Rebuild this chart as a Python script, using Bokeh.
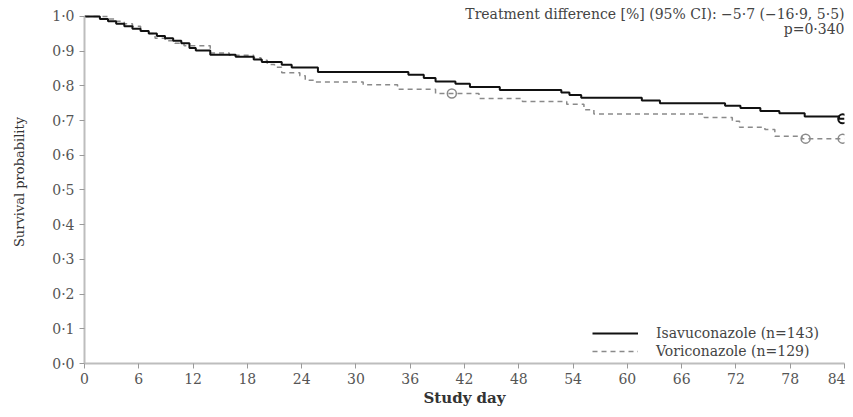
from bokeh.plotting import figure
from bokeh.models import Range1d, FixedTicker, Label, Legend, LegendItem
from bokeh.embed import file_html
from bokeh.resources import INLINE

# ---- data ----
isa_days = [0, 1.7, 2.6, 3.5, 4.4, 5.3, 6.2, 7.1, 8.0, 8.9, 9.8, 10.7, 11.6, 12.3, 13.9,
            16.7, 18.7, 19.6, 21.8, 22.9, 25.8, 35.8, 37.5, 38.8, 41.0, 42.6, 45.9, 52.7,
            53.6, 54.9, 61.6, 63.6, 70.8, 72.5, 74.7, 76.8, 79.6, 83.4]
isa_surv = [1.0, 0.993, 0.986, 0.979, 0.972, 0.965, 0.958, 0.951, 0.944, 0.937, 0.930, 0.923,
            0.909, 0.902, 0.890, 0.884, 0.876, 0.869, 0.861, 0.853, 0.840, 0.832, 0.823, 0.813,
            0.806, 0.797, 0.788, 0.781, 0.774, 0.766, 0.758, 0.750, 0.743, 0.736, 0.728, 0.721,
            0.712, 0.705]
isa_cens_days = [83.8]
isa_cens_surv = [0.705]

vor_days = [0, 2.6, 3.5, 4.4, 5.3, 6.2, 7.1, 7.8, 8.9, 10.0, 11.0, 13.9, 16.0, 18.7, 19.5,
            20.2, 21.0, 21.8, 23.8, 24.4, 25.4, 30.8, 34.6, 38.8, 43.6, 48.4, 53.3, 55.2,
            56.3, 68.5, 71.6, 72.4, 75.2, 76.3, 79.3]
vor_surv = [1.0, 0.993, 0.986, 0.979, 0.972, 0.958, 0.951, 0.937, 0.930, 0.923, 0.916, 0.895,
            0.888, 0.881, 0.874, 0.862, 0.854, 0.838, 0.829, 0.816, 0.811, 0.803, 0.790, 0.778,
            0.764, 0.755, 0.747, 0.731, 0.719, 0.709, 0.698, 0.681, 0.674, 0.655, 0.648]
vor_cens_days = [40.6, 79.7, 83.8]
vor_cens_surv = [0.778, 0.648, 0.648]

x_end = 84
x_ticks = [0, 6, 12, 18, 24, 30, 36, 42, 48, 54, 60, 66, 72, 78, 84]
y_ticks = [0.0, 0.1, 0.2, 0.3, 0.4, 0.5, 0.6, 0.7, 0.8, 0.9, 1.0]
y_tick_labels = ["0·0", "0·1", "0·2", "0·3", "0·4", "0·5", "0·6", "0·7", "0·8", "0·9", "1·0"]

isa_label = "Isavuconazole (n=143)"
vor_label = "Voriconazole (n=129)"
note_line1 = "Treatment difference [%] (95% CI): \u22125·7 (\u221216·9, 5·5)"
note_line2 = "p=0·340"

FONT = "DejaVu Serif"

p = figure(width=845, height=409, output_backend="svg", toolbar_location=None,
           x_range=Range1d(0, x_end), y_range=Range1d(0, 1.0461),
           min_border_left=84, min_border_right=1, min_border_top=0, min_border_bottom=46)
p.outline_line_color = None
p.xgrid.visible = False
p.ygrid.visible = False
p.background_fill_color = "white"

# extend steps to the end of follow-up
isa_x = isa_days + [x_end]
isa_y = isa_surv + [isa_surv[-1]]
vor_x = vor_days + [x_end]
vor_y = vor_surv + [vor_surv[-1]]

r_vor = p.step(vor_x, vor_y, mode="after", line_color="#8a8a8a", line_width=1.5,
               line_dash="5 4")
r_isa = p.step(isa_x, isa_y, mode="after", line_color="#111111", line_width=2)

p.scatter(vor_cens_days, vor_cens_surv, marker="circle", size=9, fill_color=None,
          line_color="#8a8a8a", line_width=1.5)
p.scatter(isa_cens_days, isa_cens_surv, marker="circle", size=9, fill_color=None,
          line_color="#111111", line_width=2)

# axes
for ax in (p.xaxis, p.yaxis):
    ax.axis_line_color = "#bdbdbd"
    ax.axis_line_width = 2
    ax.major_tick_line_color = "#9a9a9a"
    ax.major_tick_out = 5
    ax.major_tick_in = 0
    ax.minor_tick_line_color = None
    ax.major_label_text_font = FONT
    ax.major_label_text_font_size = "14px"
    ax.major_label_text_color = "#555555"
    ax.axis_label_text_font = FONT
    ax.axis_label_text_color = "#333333"
    ax.axis_label_text_font_style = "normal"

p.xaxis.ticker = FixedTicker(ticks=x_ticks)
p.xaxis.axis_label = "Study day"
p.xaxis.axis_label_text_font_style = "bold"
p.xaxis.axis_label_text_font_size = "15px"
p.xaxis.major_label_standoff = 4
p.xaxis.axis_label_standoff = 2

p.yaxis.ticker = FixedTicker(ticks=y_ticks)
p.yaxis.bounds = (0, 1.0)
p.yaxis.major_label_overrides = {t: s for t, s in zip(y_ticks, y_tick_labels)}
p.yaxis.axis_label = "Survival probability"
p.yaxis.axis_label_text_font_size = "13px"
p.yaxis.major_label_standoff = 5
p.yaxis.axis_label_standoff = 22

# legend
legend = Legend(items=[LegendItem(label=isa_label, renderers=[r_isa]),
                       LegendItem(label=vor_label, renderers=[r_vor])],
                location=(508, 3), padding=0, margin=0, spacing=0,
                glyph_width=46, glyph_height=18, label_height=18, label_standoff=18,
                label_text_font=FONT, label_text_font_size="14px",
                label_text_color="#444444", border_line_color=None,
                background_fill_alpha=0)
p.add_layout(legend)

# annotation
p.add_layout(Label(x=x_end, y=1.0086, text=note_line1, text_align="right",
                   text_baseline="middle", text_font=FONT, text_font_size="14px",
                   text_color="#444444"))
p.add_layout(Label(x=x_end, y=0.9640, text=note_line2, text_align="right",
                   text_baseline="middle", text_font=FONT, text_font_size="14px",
                   text_color="#444444"))

open("out.html", "w").write(file_html(p, INLINE))
